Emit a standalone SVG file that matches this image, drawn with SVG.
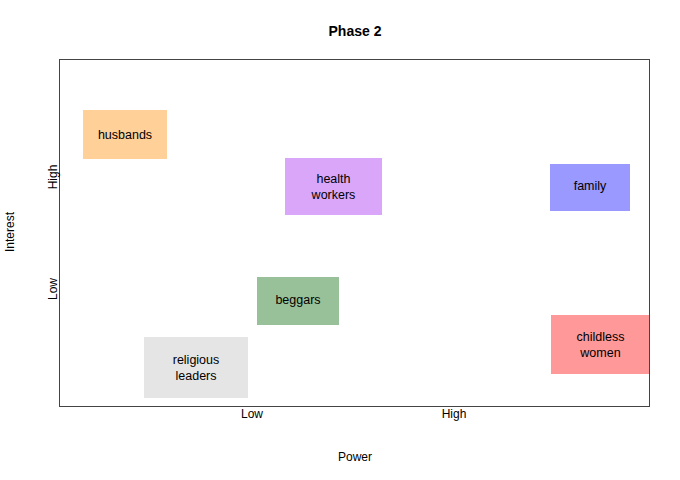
<svg xmlns="http://www.w3.org/2000/svg" width="680" height="480" viewBox="0 0 680 480">
<style>
text{font-family:"Liberation Sans",Arial,sans-serif;font-size:12.5px;fill:#000;text-anchor:middle}
.title{font-size:14px;font-weight:bold}
.axis{font-size:12px}
</style>
<rect width="680" height="480" fill="#fff"/>
<text class="title" x="355" y="35.5">Phase 2</text>
<g id="nodes">
<g id="husbands"><rect x="83" y="110" width="84" height="49" fill="#FFD199"/><text x="125" y="139">husbands</text></g>
<g id="health-workers"><rect x="285" y="158" width="97" height="57" fill="#D9A6F9"/><text x="333.5" y="182.7">health</text><text x="333.5" y="198.7">workers</text></g>
<g id="family"><rect x="550" y="164" width="80" height="47" fill="#9999FF"/><text x="590" y="190">family</text></g>
<g id="beggars"><rect x="257" y="277" width="82" height="48" fill="#99C199"/><text x="298" y="304">beggars</text></g>
<g id="childless-women"><rect x="551" y="315" width="99" height="59" fill="#FF9999"/><text x="600.5" y="341">childless</text><text x="600.5" y="357">women</text></g>
<g id="religious-leaders"><rect x="144" y="337" width="104" height="61" fill="#E5E5E5"/><text x="196" y="363.5">religious</text><text x="196" y="379.5">leaders</text></g>
</g>
<g id="connectors"></g>
<rect x="59.5" y="59.5" width="590" height="347" fill="none" stroke="#444" stroke-width="1"/>
<text class="axis" x="252" y="417.5">Low</text>
<text class="axis" x="454" y="417.5">High</text>
<text class="axis" x="355" y="461">Power</text>
<text class="axis" transform="translate(56.5,177) rotate(-90)">High</text>
<text class="axis" transform="translate(56.5,289) rotate(-90)">Low</text>
<text class="axis" transform="translate(13.5,232) rotate(-90)">Interest</text>
</svg>
